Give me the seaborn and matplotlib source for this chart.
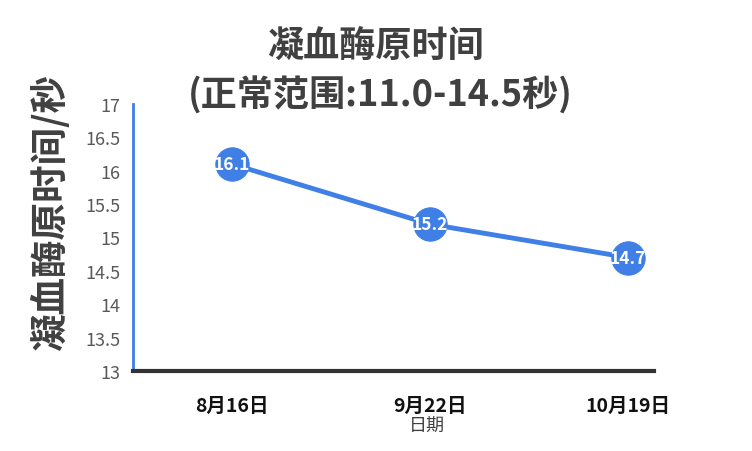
import numpy as np
import pandas as pd
import seaborn as sns
import matplotlib.pyplot as plt

sns.set_style("white")
plt.rcParams['font.family'] = ['Noto Sans CJK SC', 'DejaVu Sans']

# 数据
dates = ['8月16日', '9月22日', '10月19日']
values = [16.1, 15.2, 14.7]
y_ticks = [13, 13.5, 14, 14.5, 15, 15.5, 16, 16.5, 17]
y_tick_labels = ['13', '13.5', '14', '14.5', '15', '15.5', '16', '16.5', '17']

df = pd.DataFrame({'pos': np.arange(len(dates)), 'value': values})

blue = '#3F7FE6'
fig = plt.figure(figsize=(7.52, 4.52), dpi=100)
ax = fig.add_axes([133/752, 1 - 372/452, (727 - 133)/752, (372 - 105)/452])

sns.lineplot(data=df, x='pos', y='value', ax=ax, color=blue, linewidth=3.5,
             marker='o', markersize=24, markeredgecolor=blue, markerfacecolor=blue)

for x, v in zip(df['pos'], df['value']):
    ax.text(x, v, f'{v:.1f}', ha='center', va='center', color='white',
            fontsize=12.5, fontweight='bold')

ax.set_xlim(-0.5, 2.5)
ax.set_ylim(13, 17)
ax.set_yticks(y_ticks)
ax.set_yticklabels(y_tick_labels, color='#595959', fontsize=13, fontweight='light')
ax.set_xticks(df['pos'])
ax.set_xticklabels(dates, fontsize=14, fontweight='bold', color='#111111')
ax.tick_params(axis='x', which='major', length=0, pad=18)
ax.set_xticks([0.38, 1.26, 2.13], minor=True)
ax.tick_params(axis='x', which='minor', length=4, width=2, color='#333333')
ax.tick_params(axis='y', length=5, width=1.5, color=blue, pad=4)

for s in ['top', 'right']:
    ax.spines[s].set_visible(False)
ax.spines['left'].set_color(blue)
ax.spines['left'].set_linewidth(2)
ax.spines['bottom'].set_color('#333333')
ax.spines['bottom'].set_linewidth(3)
ax.spines['bottom'].set_bounds(-0.5, 2.13)

ax.set_xlabel('日期', fontsize=13, color='#404040')
ax.xaxis.set_label_coords((427 - 133)/594, -(418 - 372)/267)
ax.set_ylabel('凝血酶原时间/秒', fontsize=27, fontweight='bold', color='#404040')
ax.yaxis.set_label_coords(-(133 - 50)/594, (372 - 212)/267)
ax.yaxis.label.set_va('center')

fig.text(375/752, 1 - 46/452, '凝血酶原时间', ha='center', va='center',
         fontsize=26, fontweight='bold', color='#404040')
fig.text(380/752, 1 - 96/452, '(正常范围:11.0-14.5秒)', ha='center', va='center',
         fontsize=26, fontweight='bold', color='#404040')

fig.savefig('out.png', dpi=100)
